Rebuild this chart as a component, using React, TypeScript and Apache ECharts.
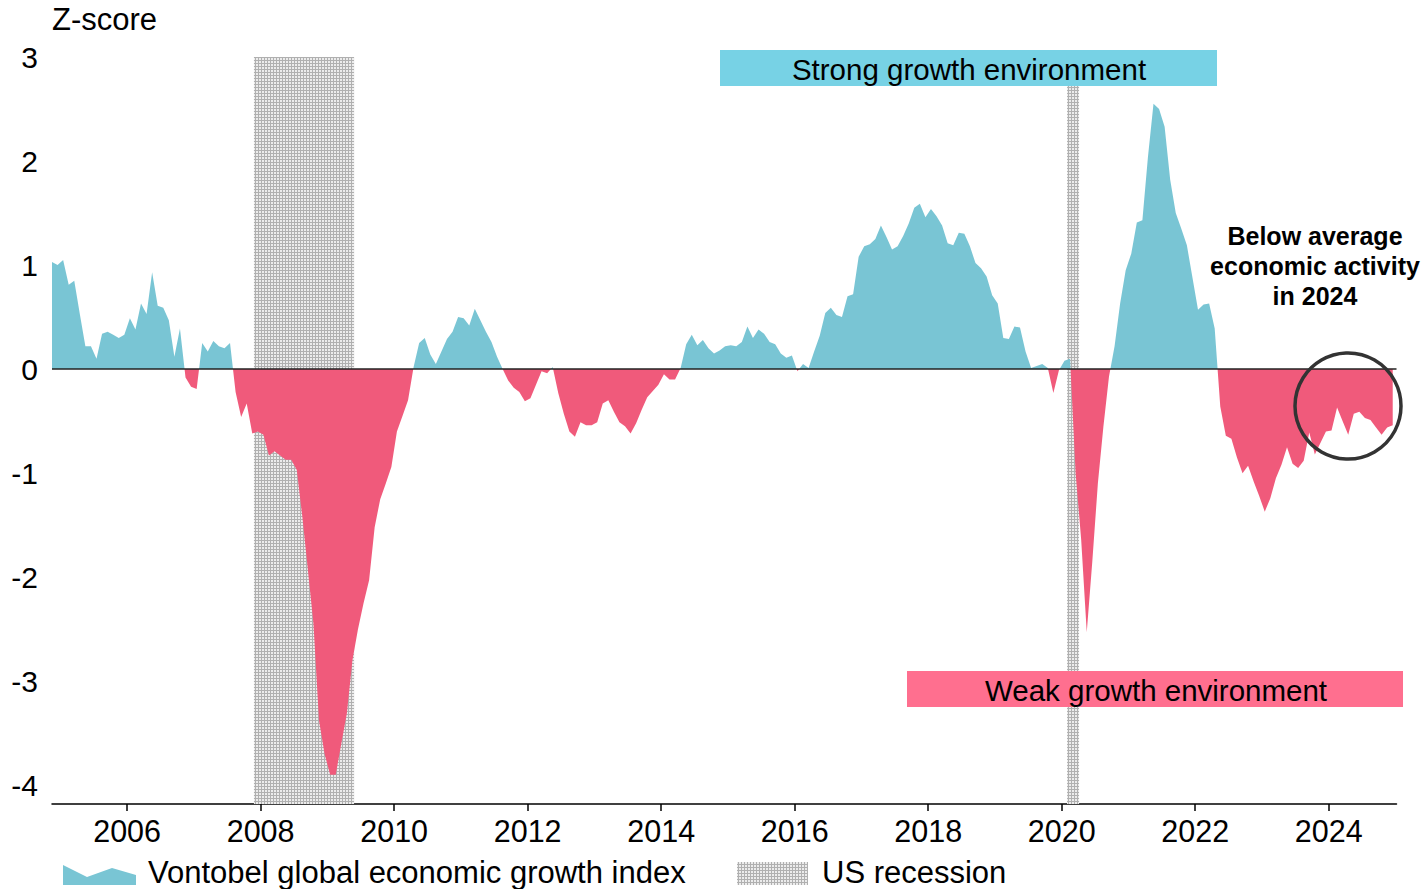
import React, { useEffect, useRef } from 'react';
import * as echarts from 'echarts';

// ---- Data (monthly, first value = Nov 2004) ----
const START_YEAR = 2004;
const START_MONTH = 11;
const growthIndex: number[] = [
  // 2004 (Nov-Dec)
  1.03, 1.0,
  // 2005
  1.05, 0.81, 0.85, 0.53, 0.22, 0.22, 0.1, 0.34, 0.36, 0.33, 0.3, 0.33,
  // 2006
  0.49, 0.38, 0.63, 0.53, 0.93, 0.61, 0.59, 0.47, 0.12, 0.39, -0.08, -0.17,
  // 2007
  -0.19, 0.25, 0.17, 0.27, 0.22, 0.2, 0.25, -0.22, -0.46, -0.33, -0.62, -0.6,
  // 2008
  -0.63, -0.83, -0.79, -0.83, -0.87, -0.87, -0.97, -1.42, -1.93, -2.45, -3.38, -3.7,
  // 2009
  -3.9, -3.9, -3.6, -3.31, -2.8, -2.5, -2.25, -2.03, -1.52, -1.25, -1.1, -0.94,
  // 2010
  -0.6, -0.45, -0.3, 0.02, 0.25, 0.3, 0.14, 0.05, 0.17, 0.29, 0.36, 0.5,
  // 2011
  0.49, 0.42, 0.58, 0.47, 0.36, 0.26, 0.12, 0.0, -0.11, -0.18, -0.22, -0.31,
  // 2012
  -0.28, -0.15, -0.02, -0.04, 0.02, -0.23, -0.43, -0.6, -0.65, -0.51, -0.54, -0.54,
  // 2013
  -0.51, -0.33, -0.3, -0.41, -0.51, -0.55, -0.62, -0.52, -0.39, -0.27, -0.21, -0.15,
  // 2014
  -0.05, -0.1, -0.1, 0.01, 0.24, 0.33, 0.23, 0.28, 0.2, 0.15, 0.18, 0.22,
  // 2015
  0.23, 0.22, 0.26, 0.41, 0.3, 0.38, 0.34, 0.26, 0.24, 0.15, 0.11, 0.13,
  // 2016
  -0.02, 0.05, 0.01, 0.17, 0.32, 0.54, 0.59, 0.52, 0.5, 0.7, 0.72, 1.08,
  // 2017
  1.18, 1.2, 1.25, 1.38, 1.27, 1.15, 1.18, 1.28, 1.4, 1.55, 1.59, 1.46,
  // 2018
  1.54, 1.47, 1.38, 1.21, 1.19, 1.31, 1.3, 1.18, 1.02, 0.97, 0.89, 0.71,
  // 2019
  0.63, 0.3, 0.29, 0.41, 0.4, 0.17, 0.01, 0.03, 0.05, 0.01, -0.23, -0.01,
  // 2020
  0.08, 0.1, -1.0, -1.64, -2.53, -1.85, -1.1, -0.55, -0.07, 0.22, 0.63, 0.95,
  // 2021
  1.11, 1.41, 1.43, 2.04, 2.55, 2.5, 2.33, 1.82, 1.5, 1.35, 1.19, 0.88,
  // 2022
  0.57, 0.62, 0.63, 0.39, -0.36, -0.64, -0.67, -0.85, -1.0, -0.93, -1.08, -1.22,
  // 2023
  -1.37, -1.24, -1.05, -0.92, -0.75, -0.91, -0.95, -0.88, -0.61, -0.82, -0.71, -0.6,
  // 2024
  -0.59, -0.37, -0.5, -0.63, -0.43, -0.41, -0.47, -0.49, -0.56, -0.63, -0.56, -0.54,
];

// US recessions (decimal years: start, end)
const recessions: [number, number][] = [
  [2007.9, 2009.4],
  [2020.08, 2020.26],
];

const xTickYears = [2006, 2008, 2010, 2012, 2014, 2016, 2018, 2020, 2022, 2024];
const yTicks = [-4, -3, -2, -1, 0, 1, 2, 3];

const X_MIN = 2004.875;
const X_MAX = 2025.015;
const Y_MIN = -4.18;
const Y_MAX = 3;

const TEAL = '#79C5D4';
const PINK = '#F05A7B';
const BANNER_STRONG = '#77D2E5';
const BANNER_WEAK = '#FF6F8F';
const FONT = '"Liberation Sans", Arial, Helvetica, sans-serif';

function makeHatch() {
  const c = document.createElement('canvas');
  c.width = 3;
  c.height = 3;
  const ctx = c.getContext('2d');
  if (ctx) {
    ctx.fillStyle = '#ececec';
    ctx.fillRect(0, 0, 3, 3);
    ctx.fillStyle = '#b0b0b0';
    ctx.fillRect(0, 0, 3, 1);
    ctx.fillRect(0, 0, 1, 3);
  }
  return { image: c.toDataURL(), repeat: 'repeat', imageWidth: 3, imageHeight: 3 } as any;
}

export default function App() {
  const ref = useRef<HTMLDivElement>(null);

  useEffect(() => {
    document.body.style.margin = '0';
    if (!ref.current) return;
    const chart = echarts.init(ref.current, undefined, { renderer: 'svg' });
    const hatch = makeHatch();

    const seriesData = growthIndex.map((v, k) => [
      START_YEAR + (START_MONTH - 0.5) / 12 + k / 12,
      v,
    ]);

    const option: any = {
      animation: false,
      backgroundColor: '#ffffff',
      grid: { left: 52, right: 27.5, top: 57, bottom: 85, containLabel: false },
      xAxis: {
        type: 'value',
        min: X_MIN,
        max: X_MAX,
        axisLine: { show: true, onZero: false, lineStyle: { color: '#000', width: 1.5 } },
        axisTick: {
          show: true,
          length: 7,
          customValues: xTickYears,
          lineStyle: { color: '#000', width: 1.5 },
        },
        axisLabel: {
          customValues: xTickYears,
          fontSize: 30.5,
          color: '#000',
          margin: 11,
          fontFamily: FONT,
          formatter: (v: number) => String(Math.round(v)),
        },
        splitLine: { show: false },
      },
      yAxis: {
        type: 'value',
        min: Y_MIN,
        max: Y_MAX,
        axisLine: { show: false },
        axisTick: { show: false },
        splitLine: { show: false },
        axisLabel: {
          customValues: yTicks,
          fontSize: 30,
          color: '#000',
          margin: 14,
          fontFamily: FONT,
          formatter: (v: number) => String(Math.round(v)),
        },
      },
      visualMap: {
        show: false,
        type: 'piecewise',
        dimension: 1,
        seriesIndex: 0,
        pieces: [
          { gt: 0, lte: 10, color: TEAL },
          { gt: -10, lte: 0, color: PINK },
        ],
        outOfRange: { color: PINK },
      },
      series: [
        {
          type: 'line',
          z: 3,
          data: seriesData,
          showSymbol: false,
          symbol: 'none',
          smooth: false,
          lineStyle: { width: 0 },
          areaStyle: { opacity: 1, origin: 0 },
          silent: true,
          markLine: {
            silent: true,
            symbol: 'none',
            label: { show: false },
            lineStyle: { color: '#222', width: 1.5, type: 'solid' },
            data: [{ yAxis: 0 }],
          },
        },
        {
          type: 'custom',
          z: 1,
          silent: true,
          data: recessions,
          encode: { x: [0, 1] },
          renderItem: (params: any, api: any) => {
            const start = api.coord([api.value(0), Y_MAX]);
            const end = api.coord([api.value(1), Y_MIN]);
            return {
              type: 'rect',
              shape: { x: start[0], y: start[1], width: end[0] - start[0], height: end[1] - start[1] },
              style: { fill: hatch },
            };
          },
        },
      ],
      graphic: [
        {
          type: 'text',
          x: 52,
          y: 19,
          z: 100,
          style: { text: 'Z-score', fontSize: 31, fontFamily: FONT, fill: '#000', verticalAlign: 'middle' },
        },
        {
          type: 'rect',
          z: 100,
          shape: { x: 720, y: 50, width: 497, height: 36 },
          style: { fill: BANNER_STRONG },
        },
        {
          type: 'text',
          x: 969,
          y: 69,
          z: 101,
          style: {
            text: 'Strong growth environment',
            fontSize: 29.5,
            fontFamily: FONT,
            fill: '#000',
            align: 'center',
            verticalAlign: 'middle',
          },
        },
        {
          type: 'rect',
          z: 100,
          shape: { x: 907, y: 671, width: 496, height: 36 },
          style: { fill: BANNER_WEAK },
        },
        {
          type: 'text',
          x: 1156,
          y: 690,
          z: 101,
          style: {
            text: 'Weak growth environment',
            fontSize: 29.5,
            fontFamily: FONT,
            fill: '#000',
            align: 'center',
            verticalAlign: 'middle',
          },
        },
        {
          type: 'text',
          x: 1315,
          y: 266,
          z: 100,
          style: {
            text: 'Below average\neconomic activity\nin 2024',
            fontSize: 25,
            fontWeight: 'bold',
            lineHeight: 30,
            fontFamily: FONT,
            fill: '#000',
            align: 'center',
            verticalAlign: 'middle',
          },
        },
        {
          type: 'circle',
          z: 100,
          shape: { cx: 1348, cy: 406, r: 53 },
          style: { fill: 'none', stroke: '#333', lineWidth: 3.5 },
        },
        {
          type: 'polygon',
          z: 100,
          shape: {
            points: [
              [63, 865],
              [87, 877],
              [112, 868],
              [136, 875],
              [136, 885],
              [63, 885],
            ],
          },
          style: { fill: TEAL },
        },
        {
          type: 'text',
          x: 148,
          y: 872,
          z: 100,
          style: {
            text: 'Vontobel global economic growth index',
            fontSize: 31,
            fontFamily: FONT,
            fill: '#000',
            verticalAlign: 'middle',
          },
        },
        {
          type: 'rect',
          z: 100,
          shape: { x: 737, y: 862, width: 71, height: 23 },
          style: { fill: hatch },
        },
        {
          type: 'text',
          x: 822,
          y: 872,
          z: 100,
          style: {
            text: 'US recession',
            fontSize: 31,
            fontFamily: FONT,
            fill: '#000',
            verticalAlign: 'middle',
          },
        },
      ],
    };

    chart.setOption(option);

    return () => {
      chart.dispose();
    };
  }, []);

  return <div ref={ref} style={{ width: 1424, height: 889 }} />;
}
